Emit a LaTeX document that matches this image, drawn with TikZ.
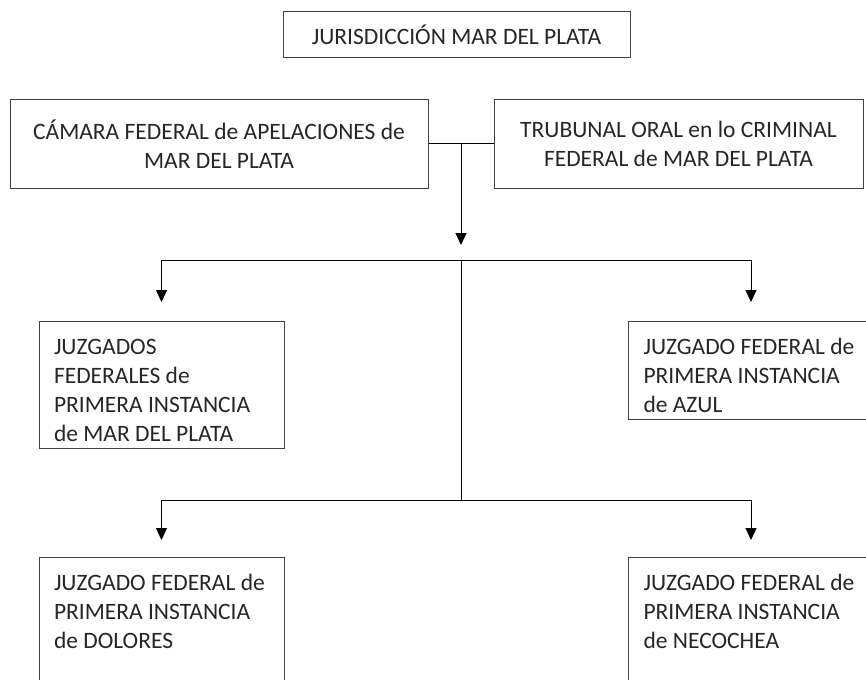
\documentclass[tikz,border=0pt]{standalone}
\usepackage{fontspec}
\setmainfont{Carlito}
\usetikzlibrary{arrows.meta, positioning, calc}
\definecolor{cline}{HTML}{404040}
\definecolor{ctext}{HTML}{262626}
\tikzset{
  every picture/.style={x=1pt, y=-1pt, line width=1pt},
  box/.style={draw=cline, text=ctext, align=center, inner sep=0pt, font=\fontsize{23.5}{29}\selectfont},
  leftbox/.style={draw=cline, text=ctext, anchor=north west, align=flush left, text width=215pt, inner xsep=15pt, inner ysep=0pt, text height=32.5pt, text depth=#1, font=\fontsize{23.5}{29}\selectfont},
  leftbox/.default=65pt,
  arrow/.style={-{Triangle[length=12pt, width=11pt]}, draw=black, line width=1pt},
  link/.style={draw=black, line width=1pt},
}

\begin{document}
\begin{tikzpicture}
  \useasboundingbox (0,0) rectangle (866,679);
  \clip (0,0) rectangle (866,679);
  \node[box, minimum width=347pt, minimum height=46pt] (jur) at (456.5,35) {JURISDICCIÓN MAR DEL PLATA};
  % upper level
  \node[box, minimum width=418pt, minimum height=88pt] (cam) at (219,144) {CÁMARA FEDERAL de APELACIONES de\\MAR DEL PLATA};
  \node[box, minimum width=369pt, minimum height=88pt] (toc) at (678.5,144) {TRUBUNAL ORAL en lo CRIMINAL\\FEDERAL de MAR DEL PLATA};
  % first instance courts
  \node[leftbox=94pt] (jmdp) at (38.5,321) {JUZGADOS\\FEDERALES de\\PRIMERA INSTANCIA\\de MAR DEL PLATA};
  \node[leftbox=65pt] (jaz) at (628,321) {JUZGADO FEDERAL de\\PRIMERA INSTANCIA\\de AZUL};
  \node[leftbox=160pt] (jdol) at (38.5,557) {JUZGADO FEDERAL de\\PRIMERA INSTANCIA\\de DOLORES};
  \node[leftbox=160pt] (jnec) at (628,557) {JUZGADO FEDERAL de\\PRIMERA INSTANCIA\\de NECOCHEA};
  % connectors
  \draw[link] (cam.east) -- (toc.west);
  \coordinate (hub) at ($(cam.east)!0.5!(toc.west)$);
  \coordinate (tip) at ($(hub)+(0,101)$);
  \coordinate (fork) at ($(hub)+(0,116)$);
  \coordinate (fork2) at ($(hub)+(0,356)$);
  \draw[arrow] (hub) -- (tip);
  \draw[link] (fork) -- (fork2);
  \draw[arrow, shorten >=19pt] (fork) -| (jmdp.north);
  \draw[arrow, shorten >=19pt] (fork) -| (jaz.north);
  \draw[arrow, shorten >=17pt] (fork2) -| (jdol.north);
  \draw[arrow, shorten >=17pt] (fork2) -| (jnec.north);
\end{tikzpicture}
\end{document}
